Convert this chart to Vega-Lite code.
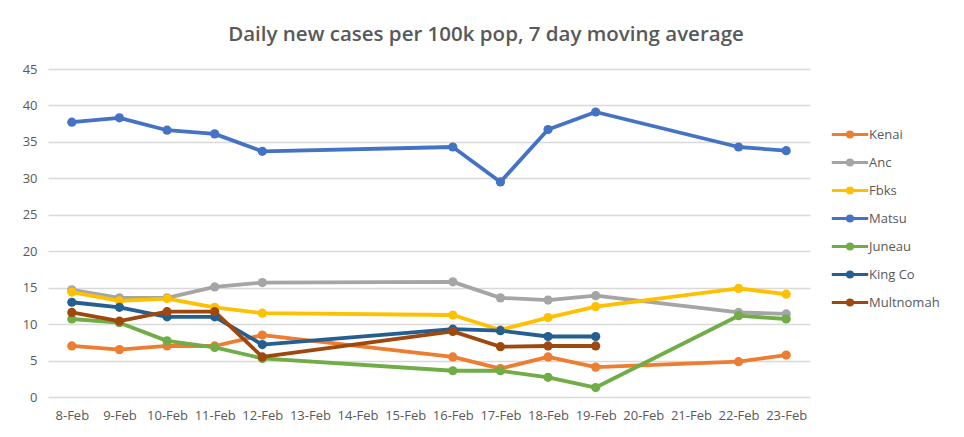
{
  "$schema": "https://vega.github.io/schema/vega-lite/v6.json",
  "autosize": {"type": "none"},
  "width": 762,
  "height": 328,
  "padding": {"left": 48, "top": 69, "right": 154, "bottom": 40},
  "background": "white",
  "title": {
    "text": "Daily new cases per 100k pop, 7 day moving average",
    "font": "Open Sans",
    "fontSize": 20.5,
    "fontWeight": 600,
    "color": "#595959",
    "anchor": "middle",
    "dx": 57,
    "dy": 22,
    "baseline": "alphabetic",
    "offset": 24
  },
  "data": {
    "values": [
      {"date": "8-Feb", "county": "Kenai", "value": 7.0},
      {"date": "9-Feb", "county": "Kenai", "value": 6.5},
      {"date": "10-Feb", "county": "Kenai", "value": 7.0},
      {"date": "11-Feb", "county": "Kenai", "value": 7.0},
      {"date": "12-Feb", "county": "Kenai", "value": 8.5},
      {"date": "16-Feb", "county": "Kenai", "value": 5.5},
      {"date": "17-Feb", "county": "Kenai", "value": 3.9},
      {"date": "18-Feb", "county": "Kenai", "value": 5.5},
      {"date": "19-Feb", "county": "Kenai", "value": 4.1},
      {"date": "22-Feb", "county": "Kenai", "value": 4.85},
      {"date": "23-Feb", "county": "Kenai", "value": 5.75},
      {"date": "8-Feb", "county": "Anc", "value": 14.7},
      {"date": "9-Feb", "county": "Anc", "value": 13.6},
      {"date": "10-Feb", "county": "Anc", "value": 13.6},
      {"date": "11-Feb", "county": "Anc", "value": 15.1},
      {"date": "12-Feb", "county": "Anc", "value": 15.7},
      {"date": "16-Feb", "county": "Anc", "value": 15.8},
      {"date": "17-Feb", "county": "Anc", "value": 13.6},
      {"date": "18-Feb", "county": "Anc", "value": 13.3},
      {"date": "19-Feb", "county": "Anc", "value": 13.9},
      {"date": "22-Feb", "county": "Anc", "value": 11.6},
      {"date": "23-Feb", "county": "Anc", "value": 11.4},
      {"date": "8-Feb", "county": "Fbks", "value": 14.4},
      {"date": "9-Feb", "county": "Fbks", "value": 13.2},
      {"date": "10-Feb", "county": "Fbks", "value": 13.5},
      {"date": "11-Feb", "county": "Fbks", "value": 12.3},
      {"date": "12-Feb", "county": "Fbks", "value": 11.5},
      {"date": "16-Feb", "county": "Fbks", "value": 11.25},
      {"date": "17-Feb", "county": "Fbks", "value": 9.2},
      {"date": "18-Feb", "county": "Fbks", "value": 10.9},
      {"date": "19-Feb", "county": "Fbks", "value": 12.4},
      {"date": "22-Feb", "county": "Fbks", "value": 14.9},
      {"date": "23-Feb", "county": "Fbks", "value": 14.1},
      {"date": "8-Feb", "county": "Matsu", "value": 37.7},
      {"date": "9-Feb", "county": "Matsu", "value": 38.3},
      {"date": "10-Feb", "county": "Matsu", "value": 36.6},
      {"date": "11-Feb", "county": "Matsu", "value": 36.1},
      {"date": "12-Feb", "county": "Matsu", "value": 33.7},
      {"date": "16-Feb", "county": "Matsu", "value": 34.3},
      {"date": "17-Feb", "county": "Matsu", "value": 29.5},
      {"date": "18-Feb", "county": "Matsu", "value": 36.7},
      {"date": "19-Feb", "county": "Matsu", "value": 39.1},
      {"date": "22-Feb", "county": "Matsu", "value": 34.3},
      {"date": "23-Feb", "county": "Matsu", "value": 33.8},
      {"date": "8-Feb", "county": "Juneau", "value": 10.7},
      {"date": "9-Feb", "county": "Juneau", "value": 10.2},
      {"date": "10-Feb", "county": "Juneau", "value": 7.7},
      {"date": "11-Feb", "county": "Juneau", "value": 6.8},
      {"date": "12-Feb", "county": "Juneau", "value": 5.3},
      {"date": "16-Feb", "county": "Juneau", "value": 3.6},
      {"date": "17-Feb", "county": "Juneau", "value": 3.6},
      {"date": "18-Feb", "county": "Juneau", "value": 2.7},
      {"date": "19-Feb", "county": "Juneau", "value": 1.3},
      {"date": "22-Feb", "county": "Juneau", "value": 11.15},
      {"date": "23-Feb", "county": "Juneau", "value": 10.7},
      {"date": "8-Feb", "county": "King Co", "value": 13.0},
      {"date": "9-Feb", "county": "King Co", "value": 12.3},
      {"date": "10-Feb", "county": "King Co", "value": 11.0},
      {"date": "11-Feb", "county": "King Co", "value": 11.0},
      {"date": "12-Feb", "county": "King Co", "value": 7.2},
      {"date": "16-Feb", "county": "King Co", "value": 9.3},
      {"date": "17-Feb", "county": "King Co", "value": 9.1},
      {"date": "18-Feb", "county": "King Co", "value": 8.3},
      {"date": "19-Feb", "county": "King Co", "value": 8.3},
      {"date": "8-Feb", "county": "Multnomah", "value": 11.6},
      {"date": "9-Feb", "county": "Multnomah", "value": 10.4},
      {"date": "10-Feb", "county": "Multnomah", "value": 11.7},
      {"date": "11-Feb", "county": "Multnomah", "value": 11.7},
      {"date": "12-Feb", "county": "Multnomah", "value": 5.5},
      {"date": "16-Feb", "county": "Multnomah", "value": 9.0},
      {"date": "17-Feb", "county": "Multnomah", "value": 6.9},
      {"date": "18-Feb", "county": "Multnomah", "value": 7.0},
      {"date": "19-Feb", "county": "Multnomah", "value": 7.0}
    ]
  },
  "encoding": {
    "x": {
      "field": "date",
      "type": "ordinal",
      "scale": {
        "type": "point",
        "padding": 0.5,
        "domain": ["8-Feb", "9-Feb", "10-Feb", "11-Feb", "12-Feb", "13-Feb", "14-Feb", "15-Feb", "16-Feb", "17-Feb", "18-Feb", "19-Feb", "20-Feb", "21-Feb", "22-Feb", "23-Feb"]
      },
      "axis": {
        "title": null,
        "labelAngle": 0,
        "labelFont": "Open Sans",
        "labelFontSize": 13,
        "labelColor": "#595959",
        "labelPadding": 12,
        "ticks": false,
        "domain": false,
        "grid": false
      }
    },
    "y": {
      "field": "value",
      "type": "quantitative",
      "scale": {"domain": [0, 45], "nice": false},
      "axis": {
        "title": null,
        "values": [0, 5, 10, 15, 20, 25, 30, 35, 40, 45],
        "labelFont": "Open Sans",
        "labelFontSize": 13,
        "labelColor": "#595959",
        "labelPadding": 11,
        "ticks": false,
        "domain": false,
        "grid": true,
        "gridColor": "#D9D9D9",
        "gridWidth": 1.3
      }
    },
    "color": {
      "field": "county",
      "type": "nominal",
      "scale": {
        "domain": ["Kenai", "Anc", "Fbks", "Matsu", "Juneau", "King Co", "Multnomah"],
        "range": ["#ED7D31", "#A5A5A5", "#FFC000", "#4472C4", "#70AD47", "#255E91", "#9E480E"]
      },
      "legend": {
        "title": null,
        "orient": "none",
        "legendX": 786.5,
        "legendY": 50,
        "padding": 0,
        "rowPadding": 3,
        "symbolSize": 784,
        "symbolType": "M-1.3,0L1.3,0M0.18,0A0.18,0.18,0,1,1,-0.18,0A0.18,0.18,0,1,1,0.18,0Z",
        "symbolStrokeWidth": 3,
        "symbolOpacity": 1,
        "labelOffset": 3.5,
        "labelFont": "Open Sans",
        "labelFontSize": 13,
        "labelColor": "#595959"
      }
    }
  },
  "layer": [
    {
      "mark": {"type": "line", "strokeWidth": 3.8, "strokeJoin": "round", "strokeCap": "round"}
    },
    {
      "mark": {"type": "point", "filled": true, "opacity": 1, "size": 85, "shape": "circle"}
    }
  ],
  "config": {
    "view": {"stroke": null}
  }
}
